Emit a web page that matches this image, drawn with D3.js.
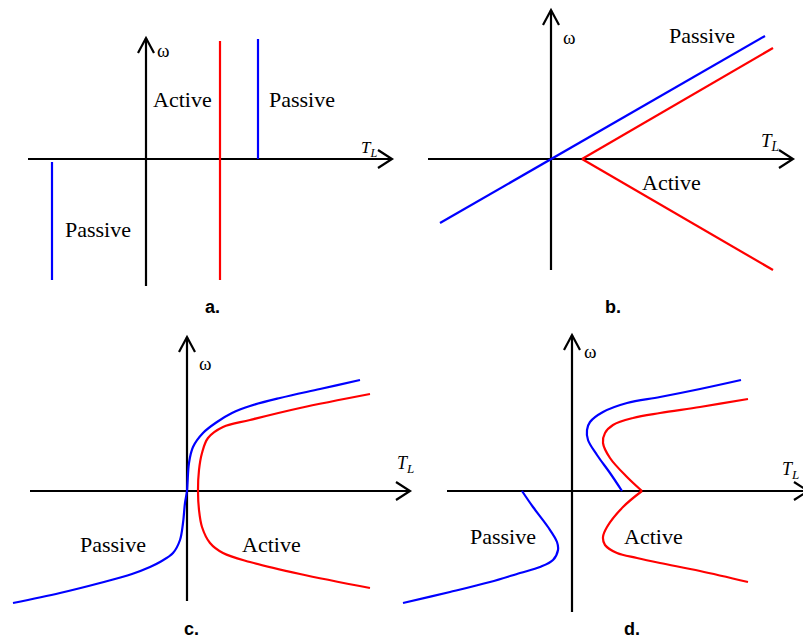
<!DOCTYPE html>
<html>
<head>
<meta charset="utf-8">
<script src="https://cdn.jsdelivr.net/npm/d3@7"></script>
<style>
  body { margin: 0; background: #fff; }
  svg { display: block; }
</style>
</head>
<body>
<div id="chart"></div>
<script>
// curve data, (T_L, ω) in arbitrary units, origin at the axes crossing
const aRed = [[7.4, 11.8], [7.4, -12.1]]
const aBlueRight = [[11.2, 0], [11.2, 12.0]]
const aBlueLeft = [[-9.4, -0.3], [-9.4, -12.1]]

const bBlue = [[-11.1, -6.4], [21.4, 12.3]]
const bRedUpper = [[3.1, 0], [22.2, 11.1]]
const bRedLower = [[3.1, 0], [22.2, -11.1]]

const cBlue = [[-17.4, -11.2], [-12.7, -10.2], [-8.7, -9.2], [-5.5, -8.3], [-3.7, -7.6], [-2.7, -7.1], [-1.4, -6.2],
  [-0.7, -4.9], [-0.4, -3.2], [-0.2, -1.2], [0, 0], [0.05, 0.8], [0.2, 2.8], [0.6, 4.4], [1.6, 5.8],
  [3.0, 6.9], [4.5, 7.8], [6.3, 8.5], [9.3, 9.3], [13.3, 10.2], [17.3, 11.1]]
const cRed = [[18.3, 9.7], [11.3, 8.3], [6.3, 7.1], [3.6, 6.4], [2.1, 5.3], [1.5, 3.8], [1.2, 2.1],
  [1.1, 0], [1.2, -1.9], [1.5, -3.6], [2.3, -5.2], [3.6, -6.2], [6.3, -7.1], [11.3, -8.3], [18.3, -9.7]]

const dBlueUpper = [[5.0, 0], [3.8, 1.8], [2.5, 3.6], [1.6, 5.1], [1.5, 6.1], [1.8, 6.9], [3.1, 7.9],
  [5.5, 8.8], [8.8, 9.4], [12.8, 10.2], [16.9, 11.1]]
const dBlueLower = [[-5.0, 0], [-3.9, -1.6], [-2.4, -3.6], [-1.5, -5.1], [-1.4, -5.9], [-1.9, -6.9],
  [-3.2, -7.6], [-5.2, -8.2], [-8.2, -9.1], [-12.2, -10.1], [-16.9, -11.2]]
const dRedUpper = [[17.6, 9.2], [12.8, 8.4], [8.8, 7.8], [6.1, 7.3], [4.1, 6.6], [3.3, 5.8], [3.1, 4.8],
  [3.8, 3.3], [5.5, 1.4], [7.0, 0]]
const dRedLower = [[7.0, 0], [5.1, -1.6], [3.5, -3.6], [3.1, -4.6], [3.3, -5.4], [4.5, -6.2], [6.5, -6.7],
  [8.8, -7.2], [12.8, -8.0], [17.6, -9.1]]

const panelNames = ['a.', 'b.', 'c.', 'd.']

const W = 803, H = 642
const K = 10 // px per unit
const BLUE = '#0000ff', RED = '#ff0000'

// axis layout per panel (pixels)
const panels = [
  { name: panelNames[0], ox: 146, oy: 159, xl: 28, xr: 392, yt: 38, yb: 286, lab: [205, 313],
    omega: [157, 57], tl: [361, 153, 17],
    series: [
      { d: aRed, c: RED, smooth: false }, { d: aBlueRight, c: BLUE, smooth: false }, { d: aBlueLeft, c: BLUE, smooth: false }],
    texts: [['Active', 153, 107], ['Passive', 269, 107], ['Passive', 65, 237]] },
  { name: panelNames[1], ox: 551, oy: 159, xl: 428, xr: 793, yt: 10, yb: 270, lab: [605, 313],
    omega: [563, 44], tl: [761, 147, 19],
    series: [
      { d: bBlue, c: BLUE, smooth: false }, { d: bRedUpper, c: RED, smooth: false }, { d: bRedLower, c: RED, smooth: false }],
    texts: [['Passive', 669, 43], ['Active', 642, 190]] },
  { name: panelNames[2], ox: 187, oy: 491, xl: 30, xr: 410, yt: 337, yb: 601, lab: [184, 635],
    omega: [199, 370], tl: [397, 469, 18],
    series: [{ d: cBlue, c: BLUE, smooth: true }, { d: cRed, c: RED, smooth: true }],
    texts: [['Passive', 80, 552], ['Active', 242, 552]] },
  { name: panelNames[3], ox: 572, oy: 491, xl: 447, xr: 808, yt: 335, yb: 612, lab: [624, 635],
    omega: [584, 358], tl: [782, 475, 18],
    series: [
      { d: dBlueUpper, c: BLUE, smooth: true }, { d: dBlueLower, c: BLUE, smooth: true },
      { d: dRedUpper, c: RED, smooth: true }, { d: dRedLower, c: RED, smooth: true }],
    texts: [['Passive', 470, 544], ['Active', 624, 544]] }
]

const svg = d3.select('#chart').append('svg')
  .attr('width', W).attr('height', H)

svg.append('rect').attr('width', W).attr('height', H).attr('fill', '#fff')

panels.forEach(p => {
  const x = d3.scaleLinear()
    .domain([(p.xl - p.ox) / K, (p.xr - p.ox) / K])
    .range([p.xl, p.xr])
  const y = d3.scaleLinear()
    .domain([(p.oy - p.yb) / K, (p.oy - p.yt) / K])
    .range([p.yb, p.yt])

  const g = svg.append('g')

  // axes with open arrowheads
  const ax = g.append('g').attr('stroke', '#000').attr('stroke-width', 2.2).attr('fill', 'none')
  ax.append('line').attr('x1', p.xl).attr('x2', p.xr).attr('y1', y(0)).attr('y2', y(0))
  ax.append('line').attr('x1', x(0)).attr('x2', x(0)).attr('y1', p.yb).attr('y2', p.yt)
  ax.append('path').attr('d', `M${p.xr - 14},${y(0) - 9}L${p.xr},${y(0)}L${p.xr - 14},${y(0) + 9}`)
  ax.append('path').attr('d', `M${x(0) - 8},${p.yt + 15}L${x(0)},${p.yt}L${x(0) + 8},${p.yt + 15}`)

  const line = d3.line().x(d => x(d[0])).y(d => y(d[1]))
  p.series.forEach(s => {
    g.append('path')
      .datum(s.d)
      .attr('d', line.curve(s.smooth ? d3.curveCatmullRom.alpha(0.5) : d3.curveLinear))
      .attr('fill', 'none')
      .attr('stroke', s.c)
      .attr('stroke-width', 2.2)
  })

  const serif = '"Liberation Serif", "Times New Roman", serif'
  g.selectAll('text.reg')
    .data(p.texts)
    .enter().append('text')
    .attr('class', 'reg')
    .attr('x', d => d[1]).attr('y', d => d[2])
    .attr('font-family', serif).attr('font-size', 22)
    .text(d => d[0])

  g.append('text')
    .attr('x', p.omega[0]).attr('y', p.omega[1])
    .attr('font-family', serif).attr('font-size', 19)
    .text('ω')

  const tl = g.append('text')
    .attr('x', p.tl[0]).attr('y', p.tl[1])
    .attr('font-family', serif).attr('font-style', 'italic').attr('font-size', p.tl[2])
  tl.append('tspan').text('T')
  tl.append('tspan').attr('dy', 4).attr('font-size', p.tl[2] * 0.72).text('L')

  g.append('text')
    .attr('x', p.lab[0]).attr('y', p.lab[1])
    .attr('font-family', '"Liberation Sans", Arial, sans-serif')
    .attr('font-weight', 'bold').attr('font-size', 18)
    .text(p.name)
})
</script>
</body>
</html>
